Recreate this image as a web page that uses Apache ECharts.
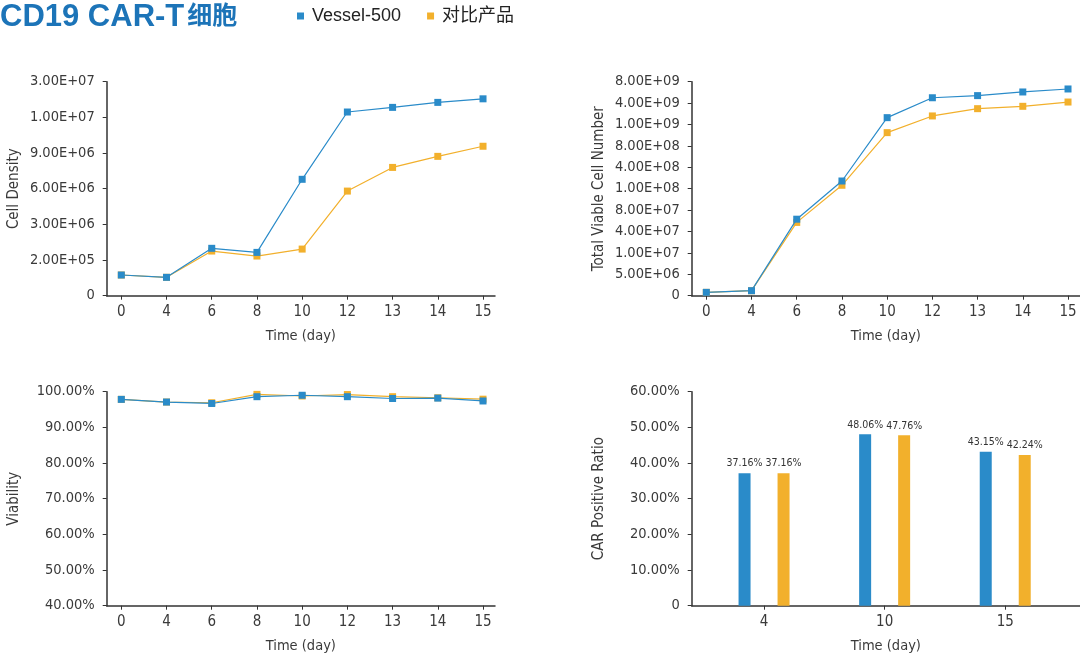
<!DOCTYPE html>
<html>
<head>
<meta charset="utf-8">
<script src="https://cdn.jsdelivr.net/npm/echarts@6/dist/echarts.min.js"></script>
<style>
html,body{margin:0;padding:0;background:#fff;}
#main{width:1080px;height:657px;}
</style>
</head>
<body>
<div id="main"></div>
<script>
// ---------- data ----------
const days = ['0', '4', '6', '8', '10', '12', '13', '14', '15'];
const seriesNames = ['Vessel-500', '对比产品'];

const densityTicks = [0, 2e5, 3e6, 6e6, 9e6, 1e7, 3e7];
const densityTickLabels = ['0', '2.00E+05', '3.00E+06', '6.00E+06', '9.00E+06', '1.00E+07', '3.00E+07'];
const densityVessel = [1.16e5, 1.03e5, 1.12e6, 8.0e5, 6.79e6, 1.30e7, 1.56e7, 1.84e7, 2.04e7];
const densityControl = [1.16e5, 1.03e5, 9.06e5, 5.14e5, 1.06e6, 5.8e6, 7.79e6, 8.72e6, 9.19e6];

const tvcTicks = [0, 5e6, 1e7, 4e7, 8e7, 1e8, 4e8, 8e8, 1e9, 4e9, 8e9];
const tvcTickLabels = ['0', '5.00E+06', '1.00E+07', '4.00E+07', '8.00E+07', '1.00E+08', '4.00E+08', '8.00E+08', '1.00E+09', '4.00E+09', '8.00E+09'];
const tvcVessel = [7.8e5, 1.17e6, 6.3e7, 2.08e8, 1.96e9, 5.0e9, 5.4e9, 6.08e9, 6.64e9];
const tvcControl = [7.8e5, 1.17e6, 5.7e7, 1.48e8, 9.24e8, 2.2e9, 3.22e9, 3.55e9, 4.2e9];

const viabilityVessel = [97.85, 97.1, 96.7, 98.6, 99.0, 98.6, 98.1, 98.2, 97.4];
const viabilityControl = [97.85, 97.1, 96.9, 99.25, 98.8, 99.2, 98.6, 98.3, 97.9];

const carDays = ['4', '10', '15'];
const carVessel = [37.16, 48.06, 43.15];
const carControl = [37.16, 47.76, 42.24];

// ---------- helpers ----------
const BLUE = '#2a8bc9';
const YELLOW = '#f2b02c';
const AXIS = '#333333';
const TXT = '#3a3a3a';
const NARROW = '"DejaVu Sans Condensed", "Liberation Sans Narrow", "Roboto", sans-serif';

// piecewise position between labelled ticks (the original axes are evenly spaced labels)
function toPos(v, ticks) {
  for (let i = 0; i < ticks.length - 1; i++) {
    if (v <= ticks[i + 1]) return i + (v - ticks[i]) / (ticks[i + 1] - ticks[i]);
  }
  return ticks.length - 1;
}
const idx = days.map((d, i) => i);

function xAxisLine(gridIndex) {
  return {
    type: 'value', gridIndex: gridIndex, min: -0.323, max: 8.265,
    name: 'Time (day)', nameLocation: 'middle', nameGap: 33,
    nameTextStyle: { fontFamily: NARROW, fontSize: 14.5, color: TXT },
    axisLine: { show: true, onZero: false, lineStyle: { color: AXIS, width: 1.5 } },
    axisTick: { show: true, length: 4, lineStyle: { color: AXIS }, customValues: idx },
    axisLabel: { customValues: idx, margin: 9, fontFamily: NARROW, fontSize: 15, color: TXT,
      formatter: v => days[Math.round(v)] },
    splitLine: { show: false }
  };
}
function yAxisBase(gridIndex, name, min, max, interval, fmt) {
  return {
    type: 'value', gridIndex: gridIndex, min: min, max: max, interval: interval,
    name: name, nameLocation: 'middle', nameGap: 85,
    nameTextStyle: { fontFamily: NARROW, fontSize: 15, color: TXT },
    axisLine: { show: true, onZero: false, lineStyle: { color: AXIS, width: 1.5 } },
    axisTick: { show: true, length: 4, lineStyle: { color: AXIS } },
    axisLabel: { margin: 12, fontFamily: NARROW, fontSize: 14.5, color: TXT, formatter: fmt },
    splitLine: { show: false }
  };
}
function lineSeries(name, color, data, xi, yi, z) {
  return {
    type: 'line', name: name, xAxisIndex: xi, yAxisIndex: yi, z: z,
    data: data, symbol: 'rect', symbolSize: 7, showSymbol: true,
    lineStyle: { color: color, width: 1.2 }, itemStyle: { color: color },
    animation: false
  };
}
const pairs = (arr, f) => arr.map((v, i) => [i, f ? f(v) : v]);
const barLabel = {
  show: true, position: 'top', distance: 4, fontFamily: NARROW, fontSize: 10.5, color: '#333',
  formatter: p => p.value[1].toFixed(2) + '%'
};

const chart = echarts.init(document.getElementById('main'));
chart.setOption({
  backgroundColor: '#ffffff',
  animation: false,
  title: {
    text: '{a|CD19 CAR-T}{b|细胞}', left: 0, top: 2,
    textStyle: {
      rich: {
        a: { fontFamily: '"Liberation Sans", Arial, sans-serif', fontWeight: 'bold', fontSize: 31, color: '#1c74b8' },
        b: { fontFamily: '"Noto Sans CJK SC", sans-serif', fontWeight: 'bold', fontSize: 25, color: '#1c74b8', padding: [0, 0, 6, 3] }
      }
    },
    padding: 0
  },
  legend: {
    data: seriesNames, left: 292, top: 2, icon: 'rect', itemWidth: 7, itemHeight: 7, itemGap: 26,
    textStyle: { fontFamily: '"Liberation Sans", "Noto Sans CJK SC", sans-serif', fontSize: 18, color: '#222', padding: [0, 0, 0, 3] }
  },
  grid: [
    { left: 106.7, top: 81.7, width: 388.3, height: 214 },
    { left: 691.7, top: 81.7, width: 388.3, height: 214 },
    { left: 106.7, top: 391.7, width: 388.3, height: 214 },
    { left: 691.7, top: 391.7, width: 388.3, height: 214 }
  ],
  xAxis: [
    xAxisLine(0),
    xAxisLine(1),
    xAxisLine(2),
    {
      type: 'value', gridIndex: 3, min: -0.6, max: 2.62,
      name: 'Time (day)', nameLocation: 'middle', nameGap: 33,
      nameTextStyle: { fontFamily: NARROW, fontSize: 14.5, color: TXT },
      axisLine: { show: true, onZero: false, lineStyle: { color: AXIS, width: 1.5 } },
      axisTick: { show: true, length: 4, lineStyle: { color: AXIS }, customValues: [0, 1, 2] },
      axisLabel: { customValues: [0, 1, 2], margin: 9, fontFamily: NARROW, fontSize: 15, color: TXT,
        formatter: v => carDays[Math.round(v)] },
      splitLine: { show: false }
    }
  ],
  yAxis: [
    yAxisBase(0, 'Cell Density', 0, densityTicks.length - 1, 1, v => densityTickLabels[Math.round(v)]),
    yAxisBase(1, 'Total Viable Cell Number', 0, tvcTicks.length - 1, 1, v => tvcTickLabels[Math.round(v)]),
    yAxisBase(2, 'Viability', 40, 100, 10, v => v.toFixed(2) + '%'),
    yAxisBase(3, 'CAR Positive Ratio', 0, 60, 10, v => v === 0 ? '0' : v.toFixed(2) + '%')
  ],
  series: [
    lineSeries(seriesNames[1], YELLOW, pairs(densityControl, v => toPos(v, densityTicks)), 0, 0, 2),
    lineSeries(seriesNames[0], BLUE, pairs(densityVessel, v => toPos(v, densityTicks)), 0, 0, 3),
    lineSeries(seriesNames[1], YELLOW, pairs(tvcControl, v => toPos(v, tvcTicks)), 1, 1, 2),
    lineSeries(seriesNames[0], BLUE, pairs(tvcVessel, v => toPos(v, tvcTicks)), 1, 1, 3),
    lineSeries(seriesNames[1], YELLOW, pairs(viabilityControl), 2, 2, 2),
    lineSeries(seriesNames[0], BLUE, pairs(viabilityVessel), 2, 2, 3),
    {
      type: 'bar', name: seriesNames[0], xAxisIndex: 3, yAxisIndex: 3,
      data: pairs(carVessel), barWidth: 12, barGap: '225%',
      itemStyle: { color: BLUE }, label: barLabel
    },
    {
      type: 'bar', name: seriesNames[1], xAxisIndex: 3, yAxisIndex: 3,
      data: pairs(carControl), barWidth: 12, barGap: '225%',
      itemStyle: { color: YELLOW }, label: barLabel
    }
  ]
});
</script>
</body>
</html>
